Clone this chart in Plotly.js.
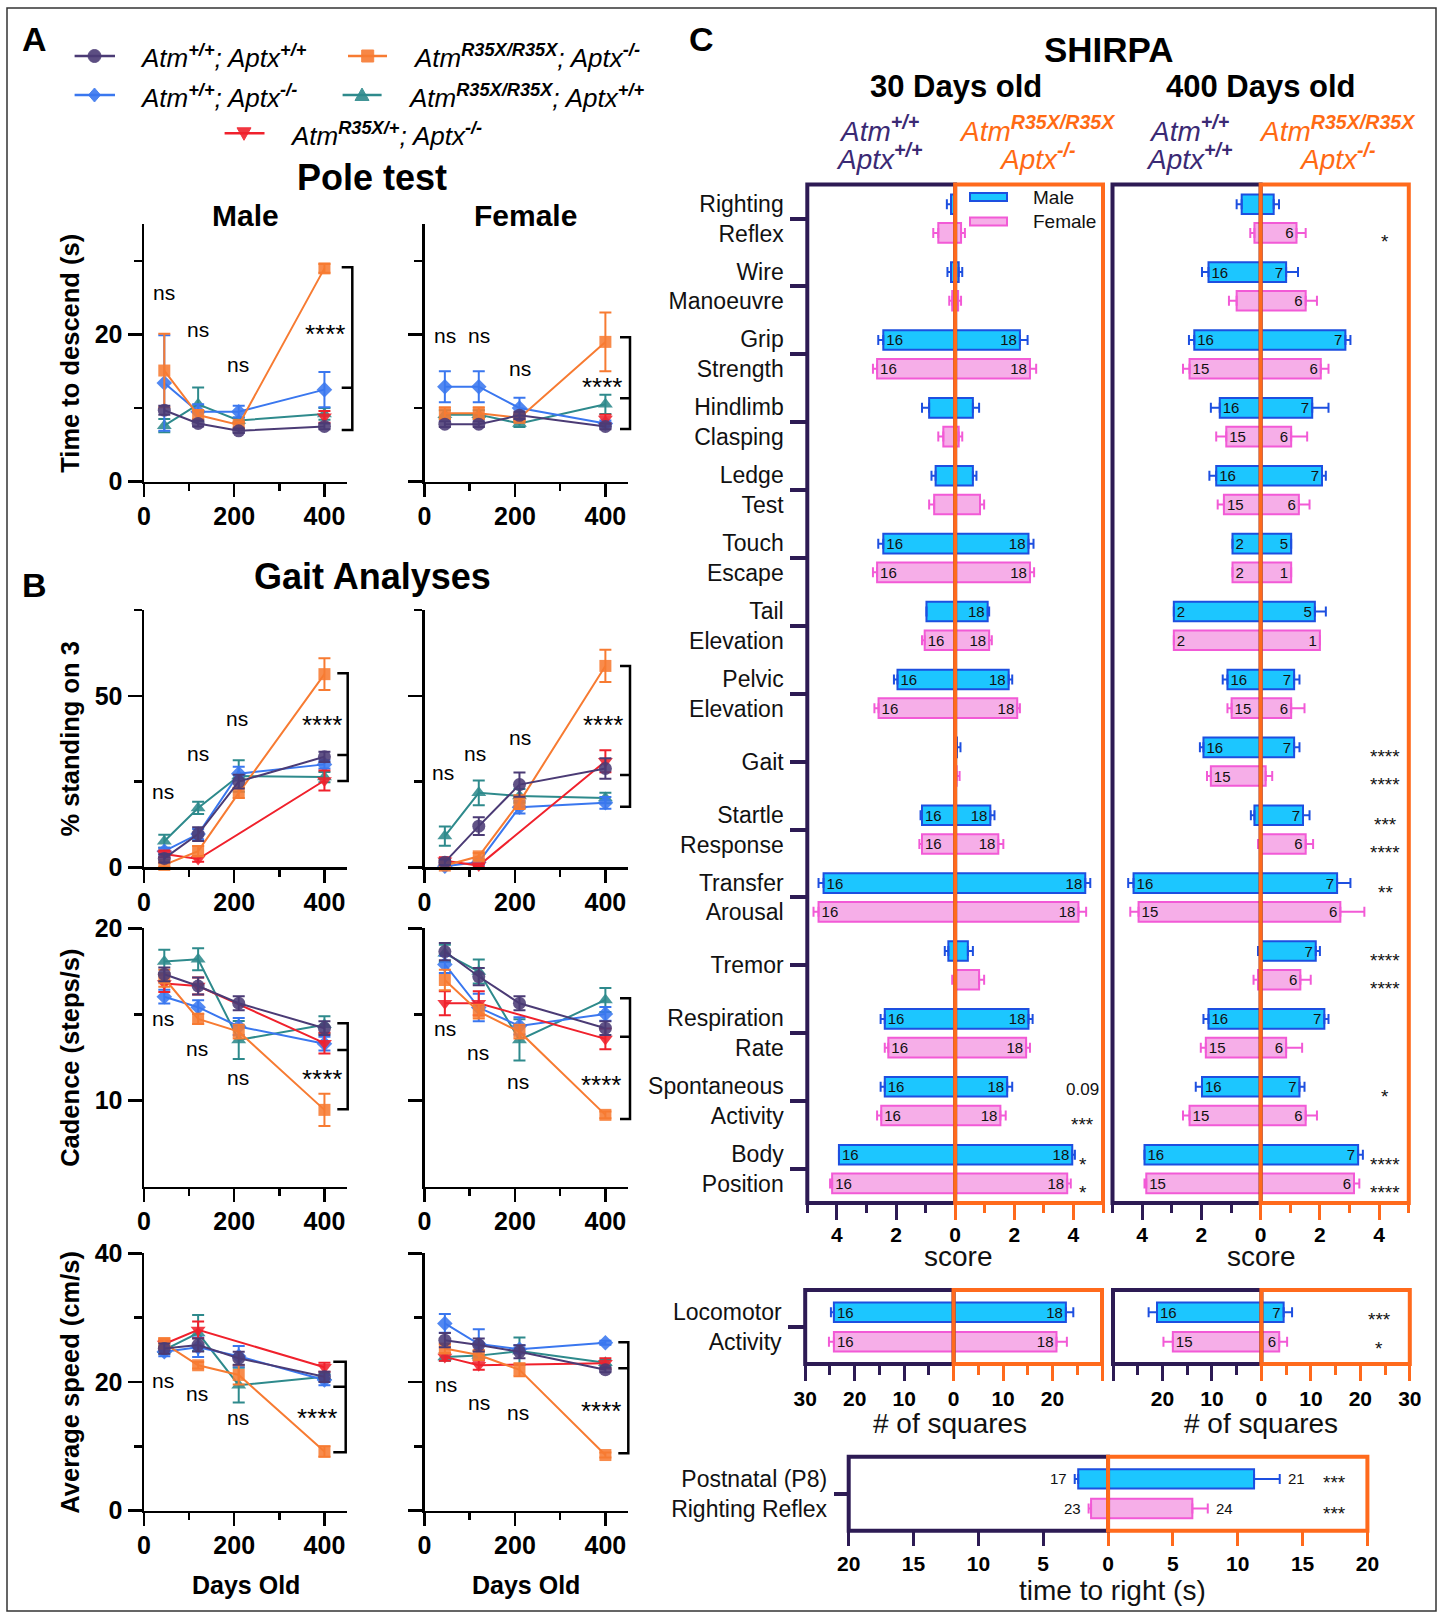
<!DOCTYPE html>
<html><head><meta charset="utf-8">
<script src="https://cdn.plot.ly/plotly-3.0.1.min.js"></script>
<style>html,body{margin:0;padding:0;background:#fff}</style>
</head><body><div id="chart" style="width:1442px;height:1617px"></div>
<script>
// ================= DATA =================
const days = [45, 120, 210, 400];
// genotype order: 0 Atm+/+;Aptx+/+ (purple), 1 AtmR35X/R35X;Aptx-/- (orange),
// 2 Atm+/+;Aptx-/- (blue), 3 AtmR35X/R35X;Aptx+/+ (teal), 4 AtmR35X/+;Aptx-/- (red)
const genoLabels = [
  '<i>Atm<sup><b>+/+</b></sup>; Aptx<sup><b>+/+</b></sup></i>',
  '<i>Atm<sup><b>R35X/R35X</b></sup>; Aptx<sup><b>-/-</b></sup></i>',
  '<i>Atm<sup><b>+/+</b></sup>; Aptx<sup><b>-/-</b></sup></i>',
  '<i>Atm<sup><b>R35X/R35X</b></sup>; Aptx<sup><b>+/+</b></sup></i>',
  '<i>Atm<sup><b>R35X/+</b></sup>; Aptx<sup><b>-/-</b></sup></i>'
];
// Pole test: time to descend (s)
const poleMale = [[9.7,7.9,6.9,7.5],[15.1,9.05,7.7,29.0],[13.4,9.5,9.5,12.5],[7.6,10.5,8.3,9.2],[null,null,null,8.8]];
const poleMaleErr = [[0.6,0.4,0.3,0.4],[5.0,0.6,0.4,0.6],[6.5,1.0,0.8,2.4],[0.9,2.3,0.4,0.8],[null,null,null,0.8]];
const poleFemale = [[7.8,7.8,9.0,7.5],[9.3,9.3,8.65,19.0],[12.9,12.9,10.0,7.9],[9.1,9.1,7.9,10.5],[null,null,null,8.5]];
const poleFemaleErr = [[0.4,0.4,0.5,0.4],[0.8,0.8,0.4,4.0],[2.1,2.1,1.4,0.4],[0.6,0.6,0.5,1.3],[null,null,null,0.6]];
// Gait: % standing on 3
const standMale = [[2.6,9.7,25.0,32.2],[0.7,4.7,21.7,56.3],[4.7,9.7,27.3,30.0],[7.6,17.3,26.6,26.3],[3.9,2.4,null,25.3]];
const standMaleErr = [[1.2,2.0,2.0,1.5],[0.6,1.5,1.5,4.6],[1.0,1.5,2.0,1.2],[1.9,1.8,4.6,1.5],[1.0,0.8,null,2.9]];
const standFemale = [[1.5,12.0,24.1,28.8],[0.5,3.2,19.0,58.7],[0.3,1.5,17.5,18.8],[9.1,21.7,20.8,20.2],[1.9,0.5,null,30.9]];
const standFemaleErr = [[0.8,2.6,3.5,3.0],[0.5,1.0,2.0,4.7],[0.3,0.8,1.8,1.7],[2.8,3.6,2.0,1.5],[1.0,0.4,null,3.2]];
// Gait: cadence (steps/s)
const cadMale = [[17.33,16.65,15.65,14.2],[17.1,14.74,14.0,9.46],[16.03,15.42,14.3,13.3],[18.07,18.2,13.52,14.4],[16.8,16.65,null,13.33]];
const cadMaleErr = [[0.4,0.5,0.4,0.4],[0.5,0.3,0.4,0.93],[0.4,0.4,0.5,0.4],[0.68,0.64,1.1,0.5],[0.5,0.5,null,0.6]];
const cadFemale = [[18.65,17.2,15.65,14.2],[17.0,15.16,14.0,9.17],[17.9,15.4,14.33,15.03],[18.55,17.49,13.52,15.84],[15.65,15.65,null,13.58]];
const cadFemaleErr = [[0.5,0.5,0.4,0.4],[0.6,0.4,0.4,0.2],[0.5,0.8,0.5,0.4],[0.5,0.7,1.2,0.7],[0.7,0.7,null,0.6]];
// Gait: average speed (cm/s)
const speedMale = [[25.2,25.75,23.7,20.8],[26.0,22.6,21.1,9.2],[24.7,25.4,24.0,20.3],[25.0,27.6,19.5,20.8],[25.9,28.1,null,22.3]];
const speedMaleErr = [[0.8,1.0,1.0,0.8],[0.8,0.5,1.5,0.8],[0.7,1.5,1.6,0.8],[0.6,2.8,2.7,0.5],[0.6,1.3,null,0.7]];
const speedFemale = [[26.5,25.75,24.7,21.9],[25.2,24.2,21.9,8.65],[29.1,25.9,25.1,26.1],[23.9,24.1,24.8,23.0],[23.9,22.6,null,22.9]];
const speedFemaleErr = [[1.1,1.0,1.0,0.4],[0.7,0.7,1.0,0.4],[1.45,2.3,0.6,0.3],[0.6,0.7,2.1,0.4],[0.6,0.7,null,0.8]];

// SHIRPA categories
const shirpaCats = ['Righting<br>Reflex','Wire<br>Manoeuvre','Grip<br>Strength','Hindlimb<br>Clasping','Ledge<br>Test','Touch<br>Escape','Tail<br>Elevation','Pelvic<br>Elevation','Gait','Startle<br>Response','Transfer<br>Arousal','Tremor','Respiration<br>Rate','Spontaneous<br>Activity','Body<br>Position'];
// 30 days: WT (Atm+/+;Aptx+/+) drawn to the left, mutant (AtmR35X/R35X;Aptx-/-) to the right
const s30MaleWT     = [0.14,0.14,2.43,0.88,0.66,2.43,0.97,1.95,null,1.12,4.45,0.23,2.38,2.38,3.93];
const s30MaleWTErr  = [0.14,0.12,0.17,0.24,0.14,0.17,0,0.12,0,0.05,0.17,0.12,0.14,0.14,0];
const s30MaleMut    = [null,0.12,2.19,0.60,0.60,2.48,1.10,1.81,0.06,1.19,4.40,0.43,2.48,1.76,3.96];
const s30MaleMutErr = [0,0.12,0.26,0.21,0.12,0.17,0.05,0.12,0.12,0.14,0.17,0.17,0.14,0.17,0.09];
const s30FemWT      = [0.57,0.10,2.64,0.40,0.71,2.64,1.03,2.59,null,1.12,4.62,0,2.26,2.50,4.16];
const s30FemWTErr   = [0.17,0.10,0.14,0.17,0.17,0.14,0.09,0.14,0,0.09,0.17,0.10,0.12,0.14,0.07];
const s30FemMut     = [0.20,0.10,2.53,0.12,0.84,2.53,1.15,2.10,0.05,1.46,4.17,0.81,2.40,1.53,3.79];
const s30FemMutErr  = [0.13,0.10,0.21,0.12,0.14,0.14,0.09,0.09,0.10,0.17,0.26,0.17,0.13,0.18,0.12];
const s30MaleWTn  = ['','','16','','','16','','16','','16','16','','16','16','16'];
const s30MaleMutn = ['','','18','','','18','18','18','','18','18','','18','18','18'];
const s30FemWTn   = ['','','16','','','16','16','16','','16','16','','16','16','16'];
const s30FemMutn  = ['','','18','','','18','18','18','','18','18','','18','18','18'];
const s30MaleSig  = ['','','','','','','','','','','','','','0.09','*'];
const s30FemSig   = ['','','','','','','','','','','','','','***','*'];
// 400 days
const s400MaleWT     = [0.64,1.76,2.24,1.38,1.50,0.95,2.93,1.12,1.93,0.21,4.29,0,1.76,1.98,3.92];
const s400MaleWTErr  = [0.17,0.22,0.18,0.30,0.23,0,0,0.16,0.12,0.12,0.18,0.09,0.17,0.21,0];
const s400MaleMut    = [0.44,0.86,2.86,1.74,2.07,1.03,1.83,1.13,1.13,1.43,2.58,1.86,2.15,1.31,3.29];
const s400MaleMutErr = [0.18,0.40,0.17,0.55,0.13,0,0.37,0.18,0.18,0.22,0.45,0.14,0.14,0.17,0.16];
const s400FemWT      = [0.21,0.81,2.40,1.16,1.24,0.95,2.93,0.98,1.68,0,4.12,0.09,1.85,2.40,3.86];
const s400FemWTErr   = [0.14,0.26,0.22,0.34,0.21,0,0,0.14,0.13,0.09,0.28,0.15,0.17,0.22,0.06];
const s400FemMut     = [1.21,1.52,2.03,1.03,1.29,1.03,2.00,1.03,0.17,1.52,2.69,1.34,0.86,1.52,3.15];
const s400FemMutErr  = [0.31,0.38,0.26,0.54,0.36,0,0,0.45,0.22,0.25,0.81,0.35,0.54,0.38,0.18];
const s400MaleWTn  = ['','16','16','16','16','2','2','16','16','','16','','16','16','16'];
const s400MaleMutn = ['','7','7','7','7','5','5','7','7','7','7','7','7','7','7'];
const s400FemWTn   = ['','','15','15','15','2','2','15','15','','15','','15','15','15'];
const s400FemMutn  = ['6','6','6','6','6','1','1','6','','6','6','6','6','6','6'];
const s400MaleSig  = ['','','','','','','','','****','***','**','****','','*','****'];
const s400FemSig   = ['*','','','','','','','','****','****','','****','','','****'];
// Locomotor activity (# of squares): [WT, mutant]
const locoCat = ['Locomotor<br>Activity'];
const loco30Male = [24.2, 22.7], loco30MaleErr = [0.6, 1.5], loco30Fem = [24.2, 20.8], loco30FemErr = [1.0, 2.1];
const loco30MaleN = ['16','18'], loco30FemN = ['16','18'];
const loco400Male = [21.1, 4.5], loco400MaleErr = [1.7, 1.7], loco400Fem = [17.9, 3.6], loco400FemErr = [1.9, 1.6];
const loco400MaleN = ['16','7'], loco400FemN = ['15','6'];
const loco400Sig = ['***','*'];
// Postnatal (P8) righting reflex (time to right, s): [WT, mutant]
const postCat = ['Postnatal (P8)<br>Righting Reflex'];
const postMale = [2.3, 11.26], postMaleErr = [0.27, 1.98], postFem = [1.31, 6.5], postFemErr = [0.19, 1.19];
const postMaleN = ['17','21'], postFemN = ['23','24'];
const postSig = ['***','***'];

// ================= STYLE / HELPERS =================
const FONT = 'Liberation Sans, Arial, Helvetica, sans-serif';
const W = 1442, H = 1617;
const X = v => v / W, Y = v => 1 - v / H;
const lineColors = ['#4b3b75','#f77b32','#3a77ef','#2e8a8c','#f0212c'];
const symbols = ['circle','square','diamond','triangle-up','triangle-down'];
const msize = [13,12,12,13,13];
const PUR = '#2d1b54', ORA = '#ff6a1c';
const GEO_P = '#3b2a74', GEO_O = '#ff6a13';
const M_FILL = '#1cc6ff', M_LINE = '#1d4fe0', F_FILL = '#f6aee8', F_LINE = '#f25ad6';

const traces = [], ann = [], shp = [];
const layout = {width: W, height: H, margin: {l:0,r:0,t:0,b:0}, paper_bgcolor:'#fff', plot_bgcolor:'rgba(0,0,0,0)',
  showlegend:false, barmode:'overlay', font:{family:FONT, color:'#000'}, annotations: ann, shapes: shp};

function A(text, x, y, size, o) {
  ann.push(Object.assign({text, x: X(x), y: Y(y), xref:'paper', yref:'paper', showarrow:false,
    xanchor:'center', yanchor:'middle', font:{family:FONT, size, color:'#000'}}, o || {}));
}
const f = (size, color, weight) => ({family:FONT, size, color: color || '#000', weight: weight || 'normal'});

// ================= LINE PLOTS (A, B) =================
const MX = [144, 347], FX = [424.5, 628];
const linePanels = [
  {id:1, v:poleMale, e:poleMaleErr, xd:MX, yd:[224.3,481.5], yr:[0,35], dt:20, t0:0, minor:{dtick:10, tick0:0}, lab:true},
  {id:2, v:poleFemale, e:poleFemaleErr, xd:FX, yd:[224.3,481.5], yr:[0,35], dt:20, t0:0, minor:{dtick:10, tick0:0}, lab:false},
  {id:3, v:standMale, e:standMaleErr, xd:MX, yd:[610,867.3], yr:[0,75], dt:50, t0:0, minor:{dtick:25, tick0:0}, lab:true},
  {id:4, v:standFemale, e:standFemaleErr, xd:FX, yd:[610,867.3], yr:[0,75], dt:50, t0:0, minor:{dtick:25, tick0:0}, lab:false},
  {id:5, v:cadMale, e:cadMaleErr, xd:MX, yd:[928.3,1186.7], yr:[5,20], dt:10, t0:0, minor:{tickmode:'array', tickvals:[15]}, lab:true},
  {id:6, v:cadFemale, e:cadFemaleErr, xd:FX, yd:[928.3,1186.7], yr:[5,20], dt:10, t0:0, minor:{tickmode:'array', tickvals:[15]}, lab:false},
  {id:7, v:speedMale, e:speedMaleErr, xd:MX, yd:[1253.3,1510.7], yr:[0,40], dt:20, t0:0, minor:{dtick:10, tick0:0}, lab:true},
  {id:8, v:speedFemale, e:speedFemaleErr, xd:FX, yd:[1253.3,1510.7], yr:[0,40], dt:20, t0:0, minor:{dtick:10, tick0:0}, lab:false}
];
const drawOrder = [3,2,4,1,0];
linePanels.forEach(p => {
  const xk = p.id === 1 ? 'xaxis' : 'xaxis' + p.id, yk = p.id === 1 ? 'yaxis' : 'yaxis' + p.id;
  const xr = p.id === 1 ? 'x' : 'x' + p.id, yr = p.id === 1 ? 'y' : 'y' + p.id;
  const common = {showline:true, linecolor:'#000', linewidth:2.5, ticks:'outside', tickwidth:2.5, tickcolor:'#000',
    showgrid:false, zeroline:false, fixedrange:true, tickfont:f(25,'#000','bold')};
  layout[xk] = Object.assign({}, common, {domain:[X(p.xd[0]), X(p.xd[1])], anchor:yr, range:[0,450], ticklen:13,
    tickmode:'linear', tick0:0, dtick:200, ticklabelstandoff:-2,
    minor:{dtick:100, tick0:0, ticks:'outside', ticklen:7, tickwidth:2.5, tickcolor:'#000'}});
  layout[yk] = Object.assign({}, common, {domain:[Y(p.yd[1]), Y(p.yd[0])], anchor:xr, range:p.yr, ticklen:14,
    tickmode:'linear', tick0:p.t0, dtick:p.dt, showticklabels:p.lab, ticklabelstandoff:0,
    minor:Object.assign({ticks:'outside', ticklen:8, tickwidth:2.5, tickcolor:'#000'}, p.minor)});
  drawOrder.forEach(g => traces.push({type:'scatter', mode:'lines+markers', x:days, y:p.v[g], xaxis:xr, yaxis:yr,
    connectgaps:true, cliponaxis:false, hoverinfo:'skip',
    line:{color:lineColors[g], width:2},
    marker:{symbol:symbols[g], size:msize[g], color:lineColors[g], opacity:0.88},
    error_y:{type:'data', array:p.e[g], visible:true, color:lineColors[g], thickness:2, width:6}}));
});

// significance brackets
function bracket(xv, xt, top, mid, bot) {
  shp.push({type:'path', xref:'paper', yref:'paper', layer:'above', line:{color:'#000', width:2.5},
    path:`M${X(xt)},${Y(top)} L${X(xv)},${Y(top)} L${X(xv)},${Y(bot)} L${X(xt)},${Y(bot)} M${X(xt)},${Y(mid)} L${X(xv)},${Y(mid)}`});
}
bracket(352.3, 341.7, 267.3, 387.7, 430);
bracket(630, 620, 337.3, 398.3, 429);
bracket(347.7, 337.3, 673.3, 755, 781);
bracket(630, 620, 666, 775, 806.7);
bracket(347.7, 337.3, 1023.3, 1050, 1109.3);
bracket(630, 620, 998.3, 1036.7, 1119);
bracket(345.7, 333.3, 1361.7, 1386.7, 1452.3);
bracket(628.3, 618.3, 1342.3, 1368.3, 1453.3);

// ns / stars
const nsPos = [
  [[164.3,292],[197.7,329],[238.3,364.7]], [[445,335.3],[479,335.3],[520,368.7]],
  [[162.7,791.3],[198.3,753.7],[237.3,718]], [[442.7,772],[475,753.7],[520,737]],
  [[163.3,1018],[196.7,1048],[237.7,1077.3]], [[445,1028],[478.3,1052.3],[517.7,1081.3]],
  [[162.7,1380.7],[197.3,1393],[238.3,1417]], [[446,1384],[479,1402],[518.3,1412.3]]];
const starPos = [[325,334],[601.7,387.3],[321.7,725],[603.3,725],[321.7,1079],[600.7,1085],[317.3,1418],[600.7,1411.3]];
nsPos.forEach(list => list.forEach(q => A('ns', q[0], q[1], 21)));
starPos.forEach(q => A('****', q[0], q[1], 26));

// titles panel A/B
A('<b>A</b>', 34, 39, 34);
A('<b>B</b>', 34, 585, 34);
A('<b>Pole test</b>', 372.4, 177.4, 36);
A('<b>Male</b>', 245.5, 215.5, 30);
A('<b>Female</b>', 525, 215.5, 30);
A('<b>Gait Analyses</b>', 372.4, 576.6, 36);
A('<b>Days Old</b>', 245.5, 1585, 25);
A('<b>Days Old</b>', 525.6, 1585, 25);
[['Time to descend (s)',353.8],['% standing on 3',738.6],['Cadence (steps/s)',1057.8],['Average speed (cm/s)',1382.7]]
  .forEach(t => A('<b>' + t[0] + '</b>', 70, t[1], 25.5, {textangle:-90}));

// legend (panel A)
const legendPos = [[74.6,115,94.5,56,138],[348,387,367.7,56,411],[74.6,115,94.5,95,138],[342.6,381.6,362,95,406],[224.6,264.5,244,133.3,288.4]];
function pathPx(pts) { return 'M' + pts.map(p => X(p[0]) + ',' + Y(p[1])).join(' L') + ' Z'; }
legendPos.forEach((q, g) => {
  const [x0, x1, cx, cy, tx] = q, c = lineColors[g], r = 6.5;
  shp.push({type:'line', xref:'paper', yref:'paper', x0:X(x0), x1:X(x1), y0:Y(cy), y1:Y(cy), line:{color:c, width:2.5}});
  const base = {xref:'paper', yref:'paper', fillcolor:c, line:{color:c, width:1}, opacity:0.9};
  if (g === 0) shp.push(Object.assign({type:'circle', x0:X(cx-r), x1:X(cx+r), y0:Y(cy-r), y1:Y(cy+r)}, base));
  if (g === 1) shp.push(Object.assign({type:'rect', x0:X(cx-6), x1:X(cx+6), y0:Y(cy-6), y1:Y(cy+6)}, base));
  if (g === 2) shp.push(Object.assign({type:'path', path:pathPx([[cx,cy-7],[cx+6,cy],[cx,cy+7],[cx-6,cy]])}, base));
  if (g === 3) shp.push(Object.assign({type:'path', path:pathPx([[cx,cy-7],[cx+7,cy+5.5],[cx-7,cy+5.5]])}, base));
  if (g === 4) shp.push(Object.assign({type:'path', path:pathPx([[cx,cy+7],[cx+7,cy-5.5],[cx-7,cy-5.5]])}, base));
  A(genoLabels[g], tx, cy + 1, 26, {xanchor:'left'});
});

// ================= PANEL C (bars) =================
function barTrace(xa, ya, cats, vals, errs, labels, male, wt, width, offset) {
  const zeros = errs.map(() => 0);
  return {type:'bar', orientation:'h', x: vals.map(v => v === null ? null : (wt ? -v : v)), y: cats,
    xaxis: xa, yaxis: ya, width: width, offset: offset, hoverinfo:'skip', cliponaxis:false,
    marker:{color: male ? M_FILL : F_FILL, line:{color: male ? M_LINE : F_LINE, width:2}},
    error_x:{type:'data', symmetric:false, array: wt ? zeros : errs, arrayminus: wt ? errs : zeros,
      color: male ? M_LINE : F_LINE, thickness:2, width:5, visible:true},
    text: labels.map(t => t === '' ? null : t), textposition:'inside', insidetextanchor:'end', textangle:0, constraintext:'none',
    textfont:{family:FONT, size:15, color:'#111'}};
}
function xAxes(idA, idB, ya, dom, range, pVals, pText, pMinor, oVals, oText, oMinor, tl, mtl, so) {
  const base = {range: range, fixedrange:true, showline:false, zeroline:false, showgrid:false, ticks:'outside',
    ticklen: tl, tickwidth:3, tickmode:'array', tickfont:f(21,'#000','bold'), anchor: ya, ticklabelstandoff: so || 0};
  layout['xaxis' + idA] = Object.assign({}, base, {domain: dom, tickvals: pVals, ticktext: pText, tickcolor: PUR,
    minor:{tickmode:'array', tickvals: pMinor, ticks:'outside', ticklen: mtl, tickwidth:3, tickcolor: PUR}});
  layout['xaxis' + idB] = Object.assign({}, base, {overlaying:'x' + idA, tickvals: oVals, ticktext: oText, tickcolor: ORA,
    minor:{tickmode:'array', tickvals: oMinor, ticks:'outside', ticklen: mtl, tickwidth:3, tickcolor: ORA}});
}
function yAxis(id, dom, cats, range, showLab) {
  layout['yaxis' + id] = {domain: dom, anchor:'x' + id, type:'category', categoryorder:'array', categoryarray: cats,
    range: range, fixedrange:true, showline:false, zeroline:false, showgrid:false,
    ticks: showLab ? 'outside' : '', ticklen:16, tickwidth:4, tickcolor: PUR, showticklabels: showLab,
    tickfont: f(23,'#111'), ticklabelstandoff:2};
}
function box(id) {
  shp.push({type:'rect', xref:'x'+id+' domain', yref:'y'+id+' domain', x0:0, x1:0.5, y0:0, y1:1, line:{color:PUR, width:4}, layer:'above'});
  shp.push({type:'rect', xref:'x'+id+' domain', yref:'y'+id+' domain', x0:0.5, x1:1, y0:0, y1:1, line:{color:ORA, width:4}, layer:'above'});
}
const SW = 0.289, SOM = -0.356, SOF = 0.067;     // SHIRPA bar thickness / offsets
const LW = 0.262, LOM = -0.331, LOF = 0.069;     // single-row panels
const shirpaY = [Y(1203), Y(184.6)];
const shirpaRange = [14.5, -0.5];

// 30 days
xAxes(9, 10, 'y9', [X(807.3), X(1103)], [-5,5], [-4,-2], ['4','2'], [-5,-3,-1], [0,2,4], ['0','2','4'], [1,3,5], 16, 9, -3);
yAxis(9, shirpaY, shirpaCats, shirpaRange, true);
traces.push(barTrace('x9','y9',shirpaCats,s30MaleWT,s30MaleWTErr,s30MaleWTn,true,true,SW,SOM));
traces.push(barTrace('x9','y9',shirpaCats,s30FemWT,s30FemWTErr,s30FemWTn,false,true,SW,SOF));
traces.push(barTrace('x10','y9',shirpaCats,s30MaleMut,s30MaleMutErr,s30MaleMutn,true,false,SW,SOM));
traces.push(barTrace('x10','y9',shirpaCats,s30FemMut,s30FemMutErr,s30FemMutn,false,false,SW,SOF));
box(9);
// 400 days
xAxes(11, 12, 'y11', [X(1112.5), X(1408.8)], [-5,5], [-4,-2], ['4','2'], [-5,-3,-1], [0,2,4], ['0','2','4'], [1,3,5], 16, 9, -3);
yAxis(11, shirpaY, shirpaCats, shirpaRange, false);
traces.push(barTrace('x11','y11',shirpaCats,s400MaleWT,s400MaleWTErr,s400MaleWTn,true,true,SW,SOM));
traces.push(barTrace('x11','y11',shirpaCats,s400FemWT,s400FemWTErr,s400FemWTn,false,true,SW,SOF));
traces.push(barTrace('x12','y11',shirpaCats,s400MaleMut,s400MaleMutErr,s400MaleMutn,true,false,SW,SOM));
traces.push(barTrace('x12','y11',shirpaCats,s400FemMut,s400FemMutErr,s400FemMutn,false,false,SW,SOF));
box(11);

// significance labels SHIRPA
function sigAnn(txt, xpx, yref, idx, male) {
  if (!txt) return;
  const star = txt.indexOf('*') >= 0;
  const ys = male ? (star ? 5 : 12) : (star ? -23 : -16);
  ann.push({text: txt, x: X(xpx), xref:'paper', y: idx, yref: yref, yshift: ys, showarrow:false,
    xanchor:'center', yanchor:'middle', font: f(star ? 19 : 17, '#111')});
}
shirpaCats.forEach((c, i) => {
  sigAnn(s30MaleSig[i], 1082.5, 'y9', i, true);
  sigAnn(s30FemSig[i], 1082.5, 'y9', i, false);
  sigAnn(s400MaleSig[i], 1385, 'y11', i, true);
  sigAnn(s400FemSig[i], 1385, 'y11', i, false);
});

// locomotor 30 d
xAxes(13, 14, 'y13', [X(805.2), X(1102)], [-30,30], [-30,-20,-10], ['30','20','10'], [-25,-15,-5], [0,10,20,30], ['0','10','20',' '], [5,15,25], 16, 10);
yAxis(13, [Y(1364), Y(1290)], locoCat, [0.5,-0.5], true);
traces.push(barTrace('x13','y13',locoCat,[loco30Male[0]],[loco30MaleErr[0]],[loco30MaleN[0]],true,true,LW,LOM));
traces.push(barTrace('x13','y13',locoCat,[loco30Fem[0]],[loco30FemErr[0]],[loco30FemN[0]],false,true,LW,LOF));
traces.push(barTrace('x14','y13',locoCat,[loco30Male[1]],[loco30MaleErr[1]],[loco30MaleN[1]],true,false,LW,LOM));
traces.push(barTrace('x14','y13',locoCat,[loco30Fem[1]],[loco30FemErr[1]],[loco30FemN[1]],false,false,LW,LOF));
box(13);
// locomotor 400 d
xAxes(15, 16, 'y15', [X(1113), X(1409.8)], [-30,30], [-30,-20,-10], [' ','20','10'], [-25,-15,-5], [0,10,20,30], ['0','10','20','30'], [5,15,25], 16, 10);
yAxis(15, [Y(1364), Y(1290)], locoCat, [0.5,-0.5], false);
traces.push(barTrace('x15','y15',locoCat,[loco400Male[0]],[loco400MaleErr[0]],[loco400MaleN[0]],true,true,LW,LOM));
traces.push(barTrace('x15','y15',locoCat,[loco400Fem[0]],[loco400FemErr[0]],[loco400FemN[0]],false,true,LW,LOF));
traces.push(barTrace('x16','y15',locoCat,[loco400Male[1]],[loco400MaleErr[1]],[loco400MaleN[1]],true,false,LW,LOM));
traces.push(barTrace('x16','y15',locoCat,[loco400Fem[1]],[loco400FemErr[1]],[loco400FemN[1]],false,false,LW,LOF));
box(15);
ann.push({text: loco400Sig[0], x: X(1379), xref:'paper', xanchor:'center', y:0, yref:'y15', yshift:8, showarrow:false, font:f(19,'#111')});
ann.push({text: loco400Sig[1], x: X(1379), xref:'paper', xanchor:'center', y:0, yref:'y15', yshift:-21, showarrow:false, font:f(19,'#111')});

// postnatal righting reflex
xAxes(17, 18, 'y17', [X(848.7), X(1367.4)], [-20,20], [-20,-15,-10,-5], ['20','15','10','5'], [], [0,5,10,15,20], ['0','5','10','15','20'], [], 14, 14);
yAxis(17, [Y(1530.7), Y(1456.7)], postCat, [0.5,-0.5], true);
layout.yaxis17.ticklen = 14;
traces.push(barTrace('x17','y17',postCat,[postMale[0]],[postMaleErr[0]],[''],true,true,LW,LOM));
traces.push(barTrace('x17','y17',postCat,[postFem[0]],[postFemErr[0]],[''],false,true,LW,LOF));
traces.push(barTrace('x18','y17',postCat,[postMale[1]],[postMaleErr[1]],[''],true,false,LW,LOM));
traces.push(barTrace('x18','y17',postCat,[postFem[1]],[postFemErr[1]],[''],false,false,LW,LOF));
box(17);
ann.push({text: postMaleN[0], x: -(postMale[0] + postMaleErr[0]), xref:'x17', xanchor:'right', xshift:-6, y:0, yref:'y17', yshift:15, showarrow:false, font:f(15,'#111')});
ann.push({text: postMaleN[1], x: postMale[1] + postMaleErr[1], xref:'x18', xanchor:'left', xshift:6, y:0, yref:'y17', yshift:15, showarrow:false, font:f(15,'#111')});
ann.push({text: postFemN[0], x: -(postFem[0] + postFemErr[0]), xref:'x17', xanchor:'right', xshift:-6, y:0, yref:'y17', yshift:-15, showarrow:false, font:f(15,'#111')});
ann.push({text: postFemN[1], x: postFem[1] + postFemErr[1], xref:'x18', xanchor:'left', xshift:6, y:0, yref:'y17', yshift:-15, showarrow:false, font:f(15,'#111')});
ann.push({text: postSig[0], x: X(1334.6), xref:'paper', xanchor:'center', y:0, yref:'y17', yshift:11, showarrow:false, font:f(19,'#111')});
ann.push({text: postSig[1], x: X(1334.6), xref:'paper', xanchor:'center', y:0, yref:'y17', yshift:-20, showarrow:false, font:f(19,'#111')});

// panel C headers / legend / axis titles
A('<b>C</b>', 701.4, 39, 34);
A('<b>SHIRPA</b>', 1109, 49.5, 35);
A('<b>30 Days old</b>', 956, 86.6, 31);
A('<b>400 Days old</b>', 1260.5, 86.6, 31);
[[880, GEO_P, '+/+', '+/+'], [1037, GEO_O, 'R35X/R35X', '-/-'], [1189.5, GEO_P, '+/+', '+/+'], [1337.5, GEO_O, 'R35X/R35X', '-/-']]
  .forEach(h => {
    A('<i>Atm<sup><b>' + h[2] + '</b></sup></i>', h[0], 128.5, 28, {font:f(28, h[1])});
    A('<i>Aptx<sup><b>' + h[3] + '</b></sup></i>', h[0], 157.5, 28, {font:f(28, h[1])});
  });
shp.push({type:'rect', xref:'paper', yref:'paper', x0:X(970), x1:X(1007), y0:Y(201), y1:Y(193), fillcolor:M_FILL, line:{color:M_LINE, width:2}, layer:'above'});
shp.push({type:'rect', xref:'paper', yref:'paper', x0:X(970), x1:X(1007), y0:Y(225.5), y1:Y(217.5), fillcolor:F_FILL, line:{color:F_LINE, width:2}, layer:'above'});
A('Male', 1031, 197, 19, {xanchor:'left', font:f(19,'#111')});
A('Female', 1031, 221.5, 19, {xanchor:'left', font:f(19,'#111')});
A('score', 958, 1256, 28, {font:f(28,'#111')});
A('score', 1260.5, 1256, 28, {font:f(28,'#111')});
A('# of squares', 950, 1423.5, 28, {font:f(28,'#111')});
A('# of squares', 1260.5, 1423.5, 28, {font:f(28,'#111')});
A('time to right (s)', 1112, 1590.5, 28, {font:f(28,'#111')});

// outer frame
shp.push({type:'rect', xref:'paper', yref:'paper', x0:X(7), x1:X(1436), y0:Y(1611), y1:Y(8), line:{color:'#333', width:1.5}});

Plotly.newPlot('chart', traces, layout, {staticPlot:true, displayModeBar:false});
</script></body></html>
